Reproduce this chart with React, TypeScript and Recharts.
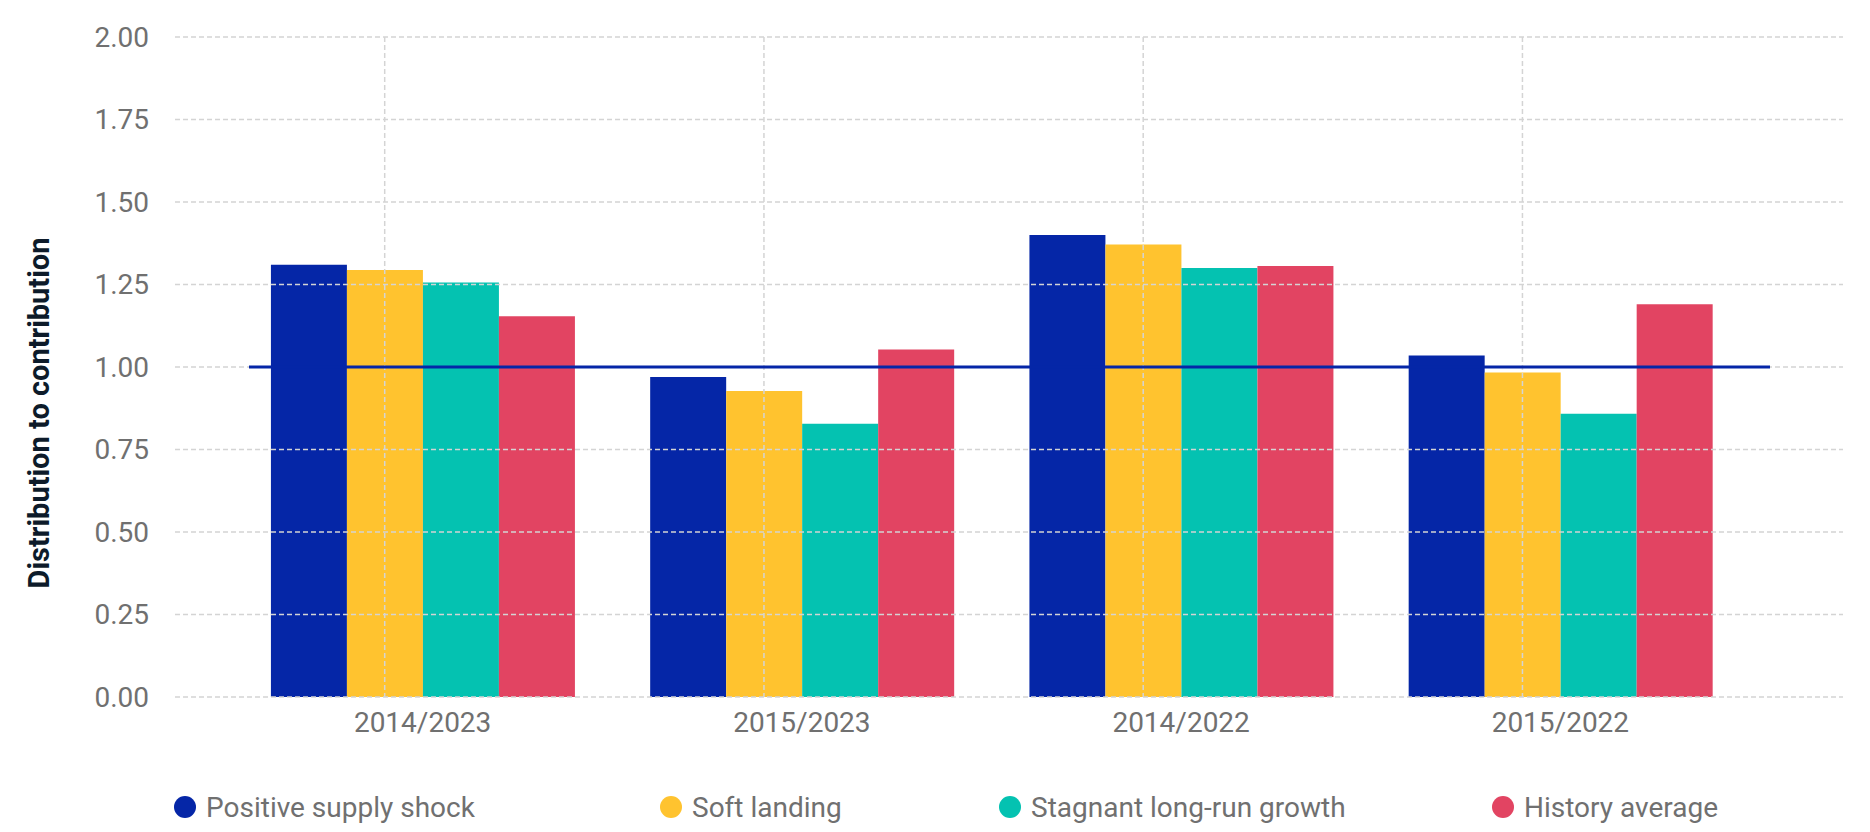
import { BarChart, Bar, XAxis, YAxis, CartesianGrid, ReferenceLine } from "recharts";

const categories = ["2014/2023", "2015/2023", "2014/2022", "2015/2022"];
const positiveSupplyShock = [1.31, 0.97, 1.4, 1.035];
const softLanding = [1.294, 0.927, 1.371, 0.983];
const stagnantGrowth = [1.256, 0.828, 1.3, 0.858];
const historyAverage = [1.154, 1.053, 1.306, 1.19];
const yTicks = [0, 0.25, 0.5, 0.75, 1, 1.25, 1.5, 1.75, 2];
const baseline = 1;

const series = [
  { key: "positive", name: "Positive supply shock", color: "#0526a7" },
  { key: "soft", name: "Soft landing", color: "#ffc32f" },
  { key: "stagnant", name: "Stagnant long-run growth", color: "#04c2b1" },
  { key: "history", name: "History average", color: "#e24462" },
];

const data = categories.map((name, i) => ({
  name,
  positive: positiveSupplyShock[i],
  soft: softLanding[i],
  stagnant: stagnantGrowth[i],
  history: historyAverage[i],
}));

const FONT = "Roboto, 'Noto Sans', sans-serif";
const PAD_L = 58;
const PAD_R = 93;
const legendLeft = [174, 660, 999, 1492];

export default function App() {
  return (
    <div style={{ position: "absolute", left: 0, top: 0, width: 1870, height: 832, background: "#fff", fontFamily: FONT }}>
      <BarChart
        width={1870}
        height={832}
        data={data}
        margin={{ top: 37, right: 27, bottom: 105, left: 0 }}
        barCategoryGap="10%"
        barGap={0}
      >
        <XAxis
          dataKey="name"
          height={30}
          axisLine={false}
          tickLine={false}
          tickMargin={9}
          padding={{ left: PAD_L, right: PAD_R }}
          tick={{ fill: "#707070", fontSize: 28, fontFamily: FONT }}
        />
        <YAxis
          width={175}
          domain={[0, 2]}
          ticks={yTicks}
          axisLine={false}
          tickLine={false}
          tickMargin={20}
          tickFormatter={(v: number) => v.toFixed(2)}
          tick={{ fill: "#707070", fontSize: 28, fontFamily: FONT }}
          label={(p: any) => {
            const vb = p.viewBox || { x: 0, y: 37, height: 660 };
            const cx = vb.x + 39;
            const cy = vb.y + vb.height / 2 + 46;
            return (
              <text
                x={cx}
                y={cy}
                transform={`rotate(-90, ${cx}, ${cy})`}
                textAnchor="middle"
                dominantBaseline="central"
                fill="#0d1b2a"
                fontSize={29}
                fontWeight={700}
                fontFamily={FONT}
              >
                Distribution to contribution
              </text>
            );
          }}
        />
        {series.map((s) => (
          <Bar key={s.key} dataKey={s.key} name={s.name} fill={s.color} isAnimationActive={false} />
        ))}
        <CartesianGrid
          stroke="#d4d4d4"
          strokeWidth={1.5}
          strokeDasharray="5 3"
          zIndex={350}
          verticalCoordinatesGenerator={({ offset }: any) => {
            const band = (offset.width - PAD_L - PAD_R) / categories.length;
            return categories.map((_, i) => offset.left + PAD_L + i * band + band * 0.4);
          }}
        />
        <ReferenceLine
          y={baseline}
          zIndex={450}
          stroke="#0526a7"
          strokeWidth={3}
          shape={(p: any) => (
            <line x1={p.x1 + 74} x2={p.x2 - 73} y1={p.y1} y2={p.y2} stroke="#0526a7" strokeWidth={3} />
          )}
        />
      </BarChart>
      <div style={{ position: "absolute", top: 790, left: 0, width: 1870, height: 34 }}>
        {series.map((s, i) => (
          <div
            key={s.key}
            style={{
              position: "absolute",
              left: legendLeft[i],
              top: 0,
              display: "flex",
              alignItems: "center",
              height: 34,
              fontSize: 28,
              color: "#707070",
              whiteSpace: "nowrap",
            }}
          >
            <span
              style={{
                display: "inline-block",
                width: 22,
                height: 22,
                borderRadius: "50%",
                background: s.color,
                marginRight: 10,
              }}
            />
            {s.name}
          </div>
        ))}
      </div>
    </div>
  );
}
